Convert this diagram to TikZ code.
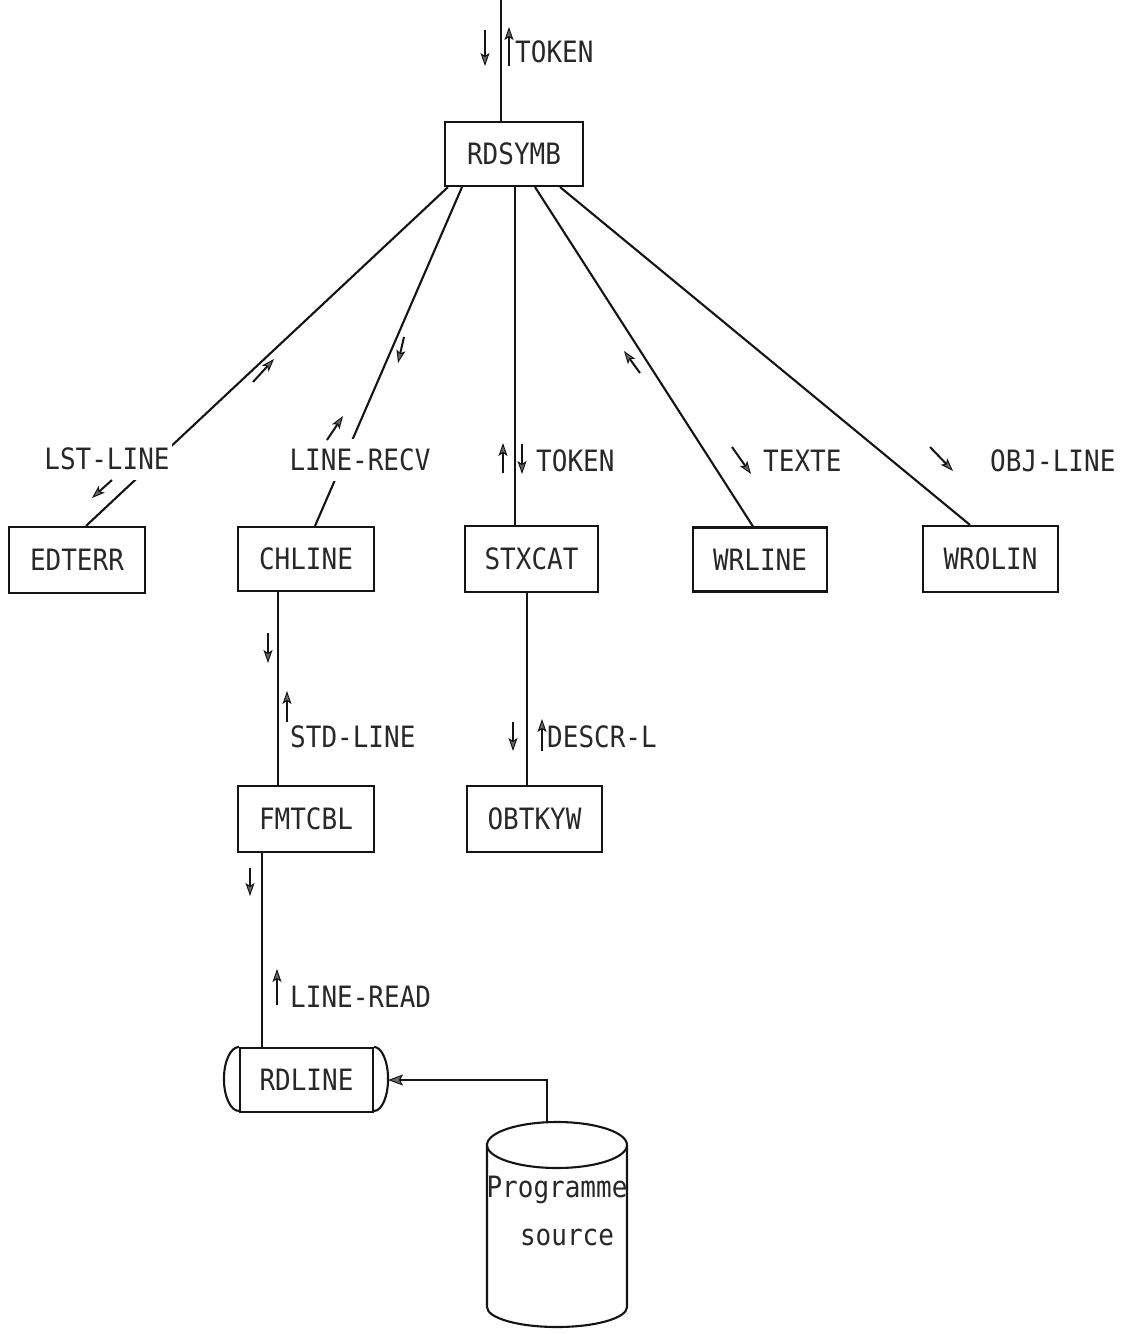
\documentclass[tikz,border=0pt]{standalone}
\usepackage{fontspec}
\usepackage{graphicx}
\setmonofont{DejaVu Sans Mono}
\usetikzlibrary{arrows.meta,calc}
\newcommand\lblfont{\ttfamily\fontsize{26}{28}\selectfont}
\newcommand\tl[1]{\scalebox{1}[1.13]{#1}}
\definecolor{inkc}{RGB}{20,20,20}
\definecolor{txtc}{RGB}{40,40,40}
\definecolor{headc}{RGB}{105,105,105}
\begin{document}
\begin{tikzpicture}[x=1pt,y=-1pt,
  box/.style={draw=inkc, line width=2.1pt, minimum width=135pt, minimum height=64pt,
              inner sep=0pt, font=\lblfont, text=txtc},
  lab/.style={font=\lblfont, text=txtc, inner sep=0pt},
  cutlab/.style={font=\lblfont, text=txtc, fill=white, inner xsep=2pt, inner ysep=10pt},
  conn/.style={draw=inkc, line width=2.1pt},
  flowarr/.style={draw=inkc, line width=2pt,
     -{Stealth[length=13pt,width=9pt,inset=3pt,fill=headc,color=inkc,line width=1pt]}},
  inarr/.style={draw=inkc, line width=2.1pt,
     -{Stealth[length=15pt,width=11pt,inset=3pt,fill=headc,color=inkc,line width=1pt]}}
]
\useasboundingbox (0,0) rectangle (1130,1334);
\fill[white] (0,0) rectangle (1130,1334);

% boxes
\node[box, minimum width=138pt] (rds) at (514,154) {\tl{RDSYMB}};
\node[box, minimum width=136pt, minimum height=66pt] (edt) at (77,560) {\tl{EDTERR}};
\node[box, minimum width=136pt] (chl) at (306,559) {\tl{CHLINE}};
\node[box, minimum width=133pt, minimum height=66pt] (stx) at (531.5,559) {\tl{STXCAT}};
\node[box, minimum width=134pt] (wrl) at (760,559.5) {\tl{WRLINE}};
\node[box, minimum width=135pt, minimum height=66pt] (wro) at (990.5,559) {\tl{WROLIN}};
\node[box, minimum width=136pt, minimum height=66pt] (fmt) at (306,819) {\tl{FMTCBL}};
\node[box, minimum width=135pt, minimum height=66pt] (obt) at (534.5,819) {\tl{OBTKYW}};
\node[box, minimum width=133pt] (rdl) at (306.5,1080) {\tl{RDLINE}};

% RDLINE side arcs
\draw[conn] (rdl.north west) arc[start angle=90, end angle=270, x radius=15pt, y radius=32pt];
\draw[conn] (rdl.north east) arc[start angle=90, end angle=-90, x radius=14pt, y radius=32pt];

% top entry
\coordinate (topin) at (501,0);
\draw[conn] (topin) -- ([xshift=-13pt]rds.north);

% connectors from RDSYMB
\draw[conn] ([xshift=-66pt]rds.south) -- ([xshift=9pt]edt.north);
\draw[conn] ([xshift=-52pt]rds.south) -- ([xshift=9pt]chl.north);
\draw[conn] ([xshift=1pt]rds.south) -- ([xshift=-16.5pt]stx.north);
\draw[conn] ([xshift=21pt]rds.south) -- ([xshift=-7pt]wrl.north);
\draw[conn] ([xshift=46pt]rds.south) -- ([xshift=-20.5pt]wro.north);

% lower connectors
\draw[conn] ([xshift=-28pt]chl.south) -- ([xshift=-28pt]fmt.north);
\draw[conn] ([xshift=-4.5pt]stx.south) -- ([xshift=-7.5pt]obt.north);
\draw[conn] ([xshift=-44pt]fmt.south) -- ([xshift=-44.5pt]rdl.north);

% cylinder
\coordinate (cylc) at (557,1145);
\draw[conn] (cylc) ellipse[x radius=70pt, y radius=23pt];
\draw[conn] (487,1145) -- (487,1307)
   arc[start angle=180, end angle=360, x radius=70pt, y radius=20pt] -- (627,1145);
\coordinate (cyltop) at (547,1122);
\coordinate (rdin) at ([xshift=14pt]rdl.east);
\draw[inarr] (cyltop) |- (rdin);
\node[lab] (prog) at (557,1190) {\tl{Programme}};
\node[lab] (src) at (567,1237) {\tl{source}};

% labels that interrupt lines
\node[cutlab] (lstl) at (107,459) {\tl{LST-LINE}};
\node[cutlab] (lrecv) at (360,460) {\tl{LINE-RECV}};

% other labels
\node[lab, anchor=west] (tok1) at (515,52) {\tl{TOKEN}};
\node[lab, anchor=west] (tok2) at (536,461) {\tl{TOKEN}};
\node[lab, anchor=west] (texte) at (763,461) {\tl{TEXTE}};
\node[lab, anchor=west] (objl) at (990,461) {\tl{OBJ-LINE}};
\node[lab, anchor=west] (stdl) at (290,737) {\tl{STD-LINE}};
\node[lab, anchor=west] (descr) at (547,737) {\tl{DESCR-L}};
\node[lab, anchor=west] (lread) at (290,997) {\tl{LINE-READ}};

% small flow arrows
\draw[flowarr] (485,30) -- (485,66);
\draw[flowarr] (509,66) -- (509,27);
\draw[flowarr] (253,382) -- (274,359);
\draw[flowarr] (112,480) -- (92,498);
\draw[flowarr] (404,337) -- (398,363);
\draw[flowarr] (327,440) -- (343,416);
\draw[flowarr] (503,473) -- (503,443);
\draw[flowarr] (522,444) -- (522,474);
\draw[flowarr] (640,373) -- (624,351);
\draw[flowarr] (732,447) -- (751,474);
\draw[flowarr] (930,447) -- (953,471);
\draw[flowarr] (268,633) -- (268,663);
\draw[flowarr] (287,722) -- (287,691);
\draw[flowarr] (513,722) -- (513,751);
\draw[flowarr] (542,751) -- (542,719);
\draw[flowarr] (250,868) -- (250,896);
\draw[flowarr] (277,1005) -- (277,969);
\end{tikzpicture}
\end{document}
